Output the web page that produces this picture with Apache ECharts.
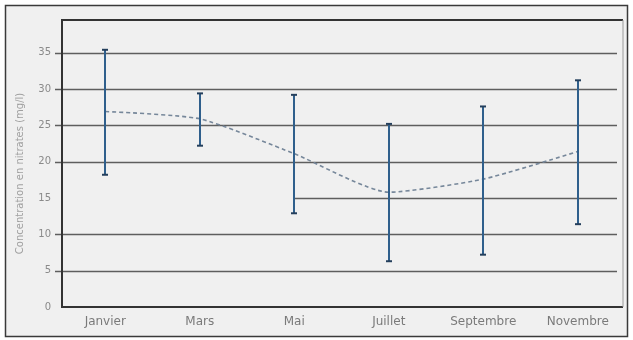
<!DOCTYPE html>
<html>
<head>
<meta charset="utf-8">
<script src="https://cdn.jsdelivr.net/npm/echarts@6/dist/echarts.min.js"></script>
<style>
  html, body { margin: 0; padding: 0; background: #ffffff; }
  #chart { width: 633px; height: 340px; }
</style>
</head>
<body>
<div id="chart"></div>
<script>
// Monthly nitrate concentration: mean with min/max range
const months = ['Janvier', 'Mars', 'Mai', 'Juillet', 'Septembre', 'Novembre'];
const meanValues = [26.9, 25.9, 21.1, 15.8, 17.6, 21.4];
const lowValues = [18.2, 22.2, 12.9, 6.3, 7.2, 11.4];
const highValues = [35.4, 29.4, 29.2, 25.2, 27.6, 31.2];
const gridValues = [5, 10, 15, 20, 25, 30, 35];
const yAxisTitle = 'Concentration en nitrates (mg/l)';

const rangeData = months.map((m, i) => [i, lowValues[i], highValues[i]]);

const chart = echarts.init(document.getElementById('chart'), null, { renderer: 'canvas' });

const option = {
  animation: false,
  backgroundColor: '#ffffff',
  grid: { left: 58, right: 8, top: 20, bottom: 33, show: false },
  graphic: [
    // outer panel
    {
      type: 'rect', z: -10, silent: true,
      shape: { x: 5.5, y: 5.5, width: 622, height: 331 },
      style: { fill: '#f0f0f0', stroke: '#3a3a3a', lineWidth: 1.5 }
    },
    // plot frame
    {
      type: 'polyline', z: 10, silent: true,
      shape: { points: [[623, 20], [62, 20], [62, 307], [623, 307]] },
      style: { stroke: '#333333', lineWidth: 2, fill: null }
    },
    {
      type: 'line', z: 10, silent: true,
      shape: { x1: 623, y1: 20, x2: 623, y2: 307 },
      style: { stroke: '#9a9a9a', lineWidth: 1 }
    }
  ],
  xAxis: {
    type: 'category',
    data: months,
    boundaryGap: true,
    axisLine: { show: false },
    axisTick: { show: false },
    axisLabel: {
      margin: 9,
      color: '#7a7a7a',
      fontFamily: 'DejaVu Sans',
      fontSize: 12
    },
    splitLine: { show: false }
  },
  yAxis: {
    type: 'value',
    min: 0,
    max: 39.5,
    interval: 5,
    name: yAxisTitle,
    nameLocation: 'middle',
    nameGap: 33,
    nameTextStyle: {
      color: '#a0a0a0',
      fontFamily: 'DejaVu Sans',
      fontSize: 10,
      padding: [0, 0, 0, -20]
    },
    axisLine: { show: false },
    axisTick: { show: false },
    splitLine: { show: false },
    axisLabel: {
      margin: 7,
      color: '#8a8a8a',
      fontFamily: 'DejaVu Sans',
      fontSize: 10,
      verticalAlign: 'middle',
      padding: [0, 0, 10, 0],
      formatter: v => (v % 5 === 0 ? String(v) : '')
    }
  },
  series: [
    {
      // horizontal reference lines
      type: 'custom',
      silent: true,
      z: 1,
      data: gridValues.map(v => [0, v]),
      encode: { x: 0, y: 1 },
      renderItem: function (params, api) {
        const cs = params.coordSys;
        const v = api.value(1);
        const y = Math.round(api.coord([0, v])[1]) + 0.5;
        let x1 = cs.x - 3;
        if (v === 15) x1 = api.coord([2, v])[0];
        const x2 = cs.x + cs.width - 8;
        return {
          type: 'line',
          shape: { x1: x1, y1: y, x2: x2, y2: y },
          style: { stroke: '#5e5e5e', lineWidth: 1.3 }
        };
      }
    },
    {
      // mean trend
      type: 'line',
      data: meanValues,
      smooth: 0.2,
      symbol: 'none',
      z: 3,
      lineStyle: { color: '#76879a', width: 1.6, type: [4, 3] }
    },
    {
      // min-max range bars
      type: 'custom',
      z: 4,
      data: rangeData,
      encode: { x: 0, y: [1, 2] },
      renderItem: function (params, api) {
        const i = api.value(0);
        const lo = api.coord([i, api.value(1)]);
        const hi = api.coord([i, api.value(2)]);
        const x = Math.round(lo[0]);
        const cap = 3;
        return {
          type: 'group',
          children: [
            {
              type: 'line',
              shape: { x1: x, y1: hi[1], x2: x, y2: lo[1] },
              style: { stroke: '#2f5f8c', lineWidth: 2 }
            },
            {
              type: 'line',
              shape: { x1: x - cap, y1: hi[1], x2: x + cap, y2: hi[1] },
              style: { stroke: '#243f5c', lineWidth: 2 }
            },
            {
              type: 'line',
              shape: { x1: x - cap, y1: lo[1], x2: x + cap, y2: lo[1] },
              style: { stroke: '#243f5c', lineWidth: 2 }
            }
          ]
        };
      }
    }
  ]
};

chart.setOption(option);
</script>
</body>
</html>
